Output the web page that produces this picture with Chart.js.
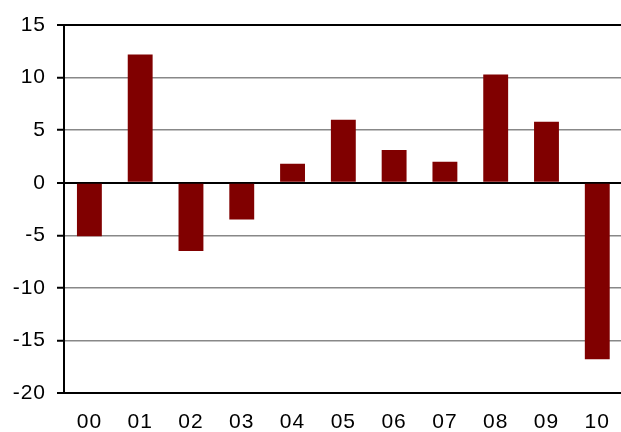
<!DOCTYPE html>
<html>
<head>
<meta charset="utf-8">
<script src="https://cdn.jsdelivr.net/npm/chart.js@4.4.1/dist/chart.umd.min.js"></script>
<style>
  html, body { margin: 0; padding: 0; background: #fff; overflow: hidden; }
  #wrap { width: 626px; height: 432px; }
</style>
</head>
<body>
<div id="wrap"><canvas id="chart" width="626" height="432"></canvas></div>
<script>
const years = ['00', '01', '02', '03', '04', '05', '06', '07', '08', '09', '10'];
const values = [-5.1, 12.2, -6.5, -3.5, 1.8, 6.0, 3.1, 2.0, 10.3, 5.8, -16.8];
const yMin = -20;
const yMax = 15;
const yStep = 5;

// the original labels are set a little wider than plain Arial
const spacing = {
    id: 'spacing',
    beforeDraw: chart => { chart.ctx.letterSpacing = '1px'; },
    afterDraw: chart => { chart.ctx.letterSpacing = '0px'; },
};

const ctx = document.getElementById('chart').getContext('2d');
new Chart(ctx, {
    type: 'bar',
    data: {
        labels: years,
        datasets: [{
            data: values,
            backgroundColor: '#800000',
            borderWidth: 0,
            barPercentage: 0.49,
            categoryPercentage: 1,
        }],
    },
    options: {
        responsive: false,
        animation: false,
        layout: { padding: { top: 25, right: 1, left: 0, bottom: 0 } },
        plugins: { legend: { display: false }, tooltip: { enabled: false } },
        scales: {
            x: {
                grid: { display: false, drawTicks: false },
                border: { display: true, color: '#000', width: 2 },
                ticks: { color: '#000', font: { family: 'Liberation Sans', size: 21 }, padding: 17 },
                afterFit: s => { s.height = 39; },
            },
            y: {
                min: yMin,
                max: yMax,
                grid: {
                    color: c => [15, 0, -20].includes(c.tick.value) ? '#000' : '#888',
                    lineWidth: c => [15, 0, -20].includes(c.tick.value) ? 2 : 1.5,
                    tickColor: '#000',
                    tickLength: 7,
                    tickWidth: 2,
                },
                border: { display: true, color: '#000', width: 2 },
                ticks: {
                    stepSize: yStep,
                    color: '#000',
                    font: { family: 'Liberation Sans', size: 21 },
                    padding: 11,
                },
                afterFit: s => { s.width = 64; },
            },
        },
    },
    plugins: [spacing],
});
</script>
</body>
</html>
